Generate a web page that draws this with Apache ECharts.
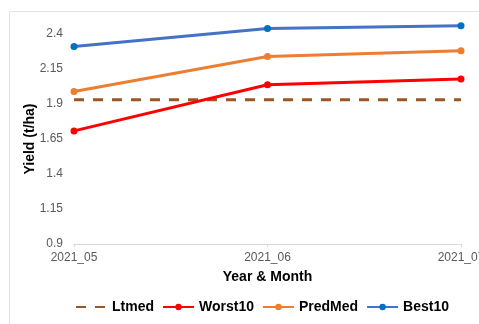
<!DOCTYPE html>
<html>
<head>
<meta charset="utf-8">
<script src="https://cdn.jsdelivr.net/npm/echarts@6/dist/echarts.min.js"></script>
<style>
  html, body { margin: 0; padding: 0; background: #ffffff; }
  #chart { width: 479px; height: 324px; }
</style>
</head>
<body>
<div id="chart"></div>
<script>
// Yield per month for each group (t/ha)
const months = ['2021_05', '2021_06', '2021_07'];
const ltmed = [1.93, 1.93, 1.93];
const worst10 = [1.708, 2.037, 2.078];
const predMed = [1.989, 2.24, 2.281];
const best10 = [2.311, 2.44, 2.459];
const yTicks = [0.9, 1.15, 1.4, 1.65, 1.9, 2.15, 2.4];

const font = 'Liberation Sans, Arial, sans-serif';

function lineSeries(name, data, color, markerColor) {
  return {
    name: name,
    type: 'line',
    data: data,
    symbol: 'circle',
    symbolSize: 7,
    showSymbol: true,
    clip: false,
    lineStyle: { color: color, width: 3 },
    itemStyle: { color: markerColor || color },
    emphasis: { disabled: true },
    z: 3
  };
}

const chart = echarts.init(document.getElementById('chart'), null, { renderer: 'canvas' });
chart.setOption({
  animation: false,
  backgroundColor: '#ffffff',
  graphic: [{
    type: 'rect',
    shape: { x: 9.5, y: 11.5, width: 480, height: 330 },
    style: { fill: 'none', stroke: '#e3e3e3', lineWidth: 1 },
    silent: true,
    z: -1
  }],
  grid: { left: 74, right: 18, top: 34, bottom: 80, containLabel: false, outerBoundsMode: 'none' },
  legend: {
    left: 75,
    top: 300,
    padding: 0,
    itemWidth: 31,
    itemHeight: 8,
    itemGap: 8,
    textStyle: { fontFamily: font, fontSize: 14, fontWeight: 'bold', color: '#000000' },
    data: [
      { name: 'Ltmed', itemStyle: { opacity: 0 } },
      'Worst10', 'PredMed', 'Best10'
    ]
  },
  xAxis: {
    type: 'category',
    data: months,
    boundaryGap: false,
    name: 'Year & Month',
    nameLocation: 'middle',
    nameGap: 26,
    nameMoveOverlap: false,
    nameTextStyle: { fontFamily: font, fontSize: 14, fontWeight: 'bold', color: '#000000' },
    axisLine: { show: true, lineStyle: { color: '#d9d9d9', width: 1 } },
    axisTick: { show: true, length: 3, alignWithLabel: true, lineStyle: { color: '#d9d9d9' } },
    axisLabel: { fontFamily: font, fontSize: 12, color: '#595959', margin: 8, hideOverlap: false },
    splitLine: { show: false }
  },
  yAxis: {
    type: 'value',
    min: yTicks[0],
    max: yTicks[yTicks.length - 1],
    interval: 0.25,
    name: 'Yield (t/ha)',
    nameLocation: 'middle',
    nameGap: 37,
    nameMoveOverlap: false,
    nameTextStyle: { fontFamily: font, fontSize: 14, fontWeight: 'bold', color: '#000000' },
    axisLine: { show: false },
    axisTick: { show: false },
    splitLine: { show: false },
    axisLabel: {
      fontFamily: font, fontSize: 12, color: '#595959', margin: 11,
      formatter: function (v) { return String(+v.toFixed(2)); }
    }
  },
  series: [
    {
      name: 'Ltmed',
      type: 'line',
      data: ltmed,
      symbol: 'none',
      clip: false,
      lineStyle: { color: '#9a5724', width: 3, type: [10, 9] },
      itemStyle: { color: '#9a5724' },
      emphasis: { disabled: true },
      z: 2
    },
    lineSeries('Worst10', worst10, '#ff0000'),
    lineSeries('PredMed', predMed, '#ed7d31'),
    lineSeries('Best10', best10, '#4472c4', '#0070c0')
  ]
});
</script>
</body>
</html>
